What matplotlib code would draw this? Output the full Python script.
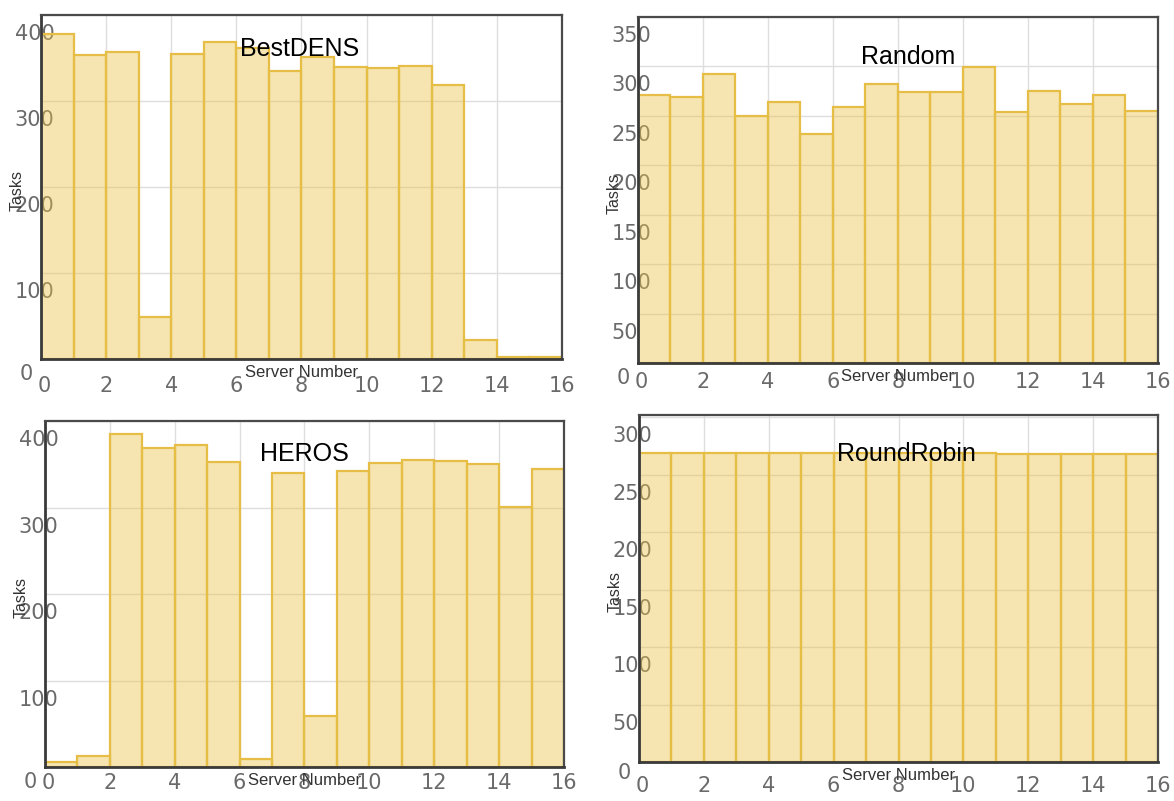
"""Per-server task counts for four scheduling policies (2x2 bar panels)."""

import matplotlib

matplotlib.use("Agg")
import matplotlib.pyplot as plt
from matplotlib.transforms import ScaledTranslation

# server index of each bar (each bar spans [i, i+1])
servers = list(range(16))

bestdens_tasks = [378, 353, 357, 49, 355, 369, 362, 335, 351, 339, 338, 341, 319, 22, 2, 2]
random_tasks = [271, 269, 292, 250, 264, 232, 259, 282, 274, 274, 299, 254, 275, 262, 271, 255]
heros_tasks = [6, 13, 385, 369, 372, 353, 9, 340, 59, 342, 352, 355, 354, 350, 301, 344]
roundrobin_tasks = [269, 269, 269, 269, 269, 269, 269, 269, 269, 269, 269, 268, 268, 268, 268, 268]

panel_titles = ["BestDENS", "Random", "HEROS", "RoundRobin"]
panel_ymax = [400, 350, 400, 302]
panel_yticks = [
    [0, 100, 200, 300, 400],
    [0, 50, 100, 150, 200, 250, 300, 350],
    [0, 100, 200, 300, 400],
    [0, 50, 100, 150, 200, 250, 300],
]
xticks = [0, 2, 4, 6, 8, 10, 12, 14, 16]

FILL = (0.92, 0.76, 0.27, 0.42)
EDGE = "#E6BE45"
GRID = "#DEDEDE"
TICK_COLOR = "#6A6A6A"

# [left, bottom, width, height] in figure fractions, title x/y in axes fractions
positions = [
    [0.0349, 0.5518, 0.4438, 0.4295],
    [0.5434, 0.5468, 0.4429, 0.4320],
    [0.0383, 0.0424, 0.4421, 0.4320],
    [0.5443, 0.0487, 0.4421, 0.4332],
]
title_xy = [(0.497, 0.902), (0.52, 0.885), (0.5, 0.905), (0.516, 0.887)]
xtick_pad = [12, 6.5, 4, 10]
zero_lift = [0.04, 0.04, 0.04, 0.08]

fig = plt.figure(figsize=(11.74, 8.01), dpi=100)

series = [bestdens_tasks, random_tasks, heros_tasks, roundrobin_tasks]
for i, tasks in enumerate(series):
    ax = fig.add_axes(positions[i])
    ax.bar(servers, tasks, width=1.0, align="edge", color=FILL,
           edgecolor=EDGE, linewidth=1.6, zorder=2)

    ax.set_xlim(0, 16)
    ax.set_ylim(0, panel_ymax[i])
    ax.set_xticks(xticks)
    ax.set_yticks(panel_yticks[i])
    ax.set_yticklabels([str(v) for v in panel_yticks[i]])
    ax.grid(True, color=GRID, linewidth=1.0, zorder=0)
    ax.set_axisbelow(True)

    for side in ("left", "bottom"):
        ax.spines[side].set_color("#3A3A3A")
        ax.spines[side].set_linewidth(2.0)
    for side in ("top", "right"):
        ax.spines[side].set_color("#4A4A4A")
        ax.spines[side].set_linewidth(1.6)
    for spine in ax.spines.values():
        spine.set_zorder(3)

    ax.tick_params(axis="both", length=0, labelsize=15, labelcolor=TICK_COLOR)
    ax.tick_params(axis="x", pad=xtick_pad[i])
    ax.tick_params(axis="y", pad=19)

    # y labels sit left-aligned and slightly below their grid lines
    down = ScaledTranslation(0, -0.17, fig.dpi_scale_trans)
    for lab in ax.get_yticklabels():
        lab.set_horizontalalignment("left")
        shift = down
        if lab.get_text() == "0":
            shift = down + ScaledTranslation(0.05, zero_lift[i], fig.dpi_scale_trans)
        lab.set_transform(lab.get_transform() + shift)
    right = ScaledTranslation(0.03, 0, fig.dpi_scale_trans)
    ax.get_xticklabels()[0].set_transform(ax.get_xticklabels()[0].get_transform() + right)

    ax.set_xlabel("Server Number", fontsize=12, color="#333333", family="Liberation Sans")
    ax.xaxis.set_label_coords(0.5, -0.016)
    ax.set_ylabel("Tasks", fontsize=11.5, color="#333333", family="Liberation Sans")
    ax.yaxis.set_label_coords(-0.031, 0.49)

    tx, ty = title_xy[i]
    ax.text(tx, ty, panel_titles[i], transform=ax.transAxes, ha="center", va="center",
            fontsize=18, color="black", family="Liberation Sans", zorder=4)

fig.savefig("out.png", dpi=100)
